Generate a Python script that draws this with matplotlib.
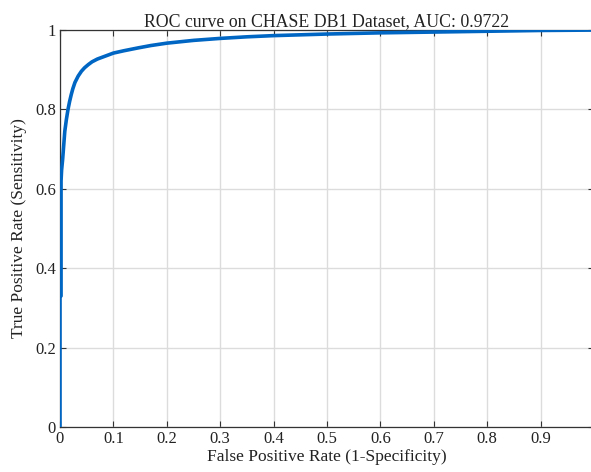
import matplotlib
matplotlib.use("Agg")
import matplotlib.pyplot as plt

# ROC points
fpr = [0.0, 0.0, 0.002, 0.002, 0.003, 0.005, 0.007, 0.009, 0.012, 0.015,
       0.018, 0.021, 0.024, 0.028, 0.034, 0.04, 0.046, 0.053, 0.06, 0.07,
       0.084, 0.1, 0.12, 0.146, 0.17, 0.2, 0.25, 0.3, 0.35, 0.4, 0.45, 0.5,
       0.6, 0.7, 0.8, 0.85, 0.9, 1.0]
tpr = [0.0, 0.33, 0.33, 0.62, 0.647, 0.675, 0.71, 0.745, 0.775, 0.8,
       0.82, 0.837, 0.852, 0.868, 0.884, 0.896, 0.905, 0.913, 0.92, 0.927,
       0.934, 0.942, 0.948, 0.955, 0.961, 0.967, 0.974, 0.979, 0.983, 0.986,
       0.988, 0.99, 0.993, 0.995, 0.997, 0.998, 0.999, 1.0]

title = "ROC curve on CHASE DB1 Dataset, AUC: 0.9722"
xticks = [0, 0.1, 0.2, 0.3, 0.4, 0.5, 0.6, 0.7, 0.8, 0.9, 1]
yticks = [0, 0.2, 0.4, 0.6, 0.8, 1]

plt.rcParams['font.family'] = ['Liberation Serif', 'DejaVu Serif']

fig = plt.figure(figsize=(5.91, 4.72), dpi=100)
ax = fig.add_axes([0.1015, 0.0953, 0.9035, 0.841])

ax.plot(fpr, tpr, color='#0066c4', linewidth=2.6, solid_joinstyle='round', zorder=3)

ax.set_xlim(0, 1)
ax.set_ylim(0, 1)
ax.set_xticks(xticks)
ax.set_xticklabels([f"{v:g}" for v in xticks])
ax.set_yticks(yticks)
ax.set_yticklabels([f"{v:g}" for v in yticks])
ax.grid(True, color='#dcdcdc', linewidth=1.0)
ax.set_axisbelow(True)
ax.tick_params(direction='in', length=4, width=0.8, colors='#333333',
               labelsize=12, labelcolor='#222222', top=True, right=True, pad=3)
for s in ax.spines.values():
    s.set_color('#333333')
    s.set_linewidth(0.9)

ax.set_title(title, fontsize=12.8, pad=3, color='#222222')
ax.set_xlabel("False Positive Rate (1-Specificity)", fontsize=12.5, labelpad=1, color='#222222')
ax.set_ylabel("True Positive Rate (Sensitivity)", fontsize=12.5, labelpad=6, color='#222222')

fig.savefig("out.png", dpi=100)
